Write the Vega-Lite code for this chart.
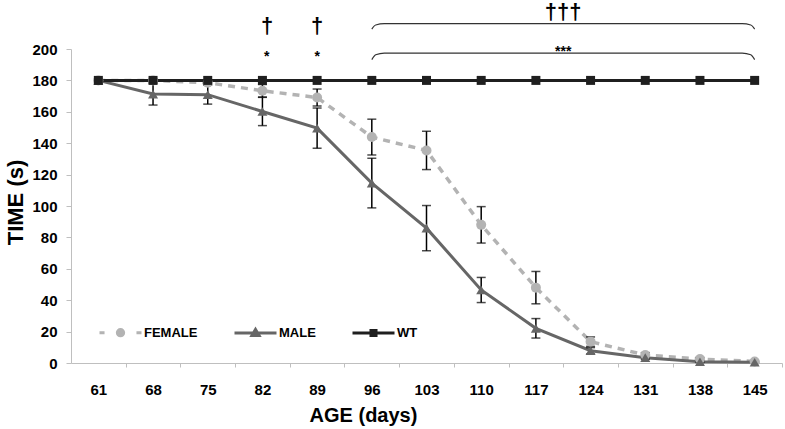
{
  "$schema": "https://vega.github.io/schema/vega-lite/v6.json",
  "width": 711,
  "height": 314,
  "autosize": {"type": "none"},
  "padding": {"left": 71, "top": 49, "right": 3, "bottom": 66},
  "background": "white",
  "config": {"view": {"stroke": null}, "font": "Liberation Sans", "axis": {"grid": false}},
  "datasets": {
    "series": [
      {"series": "FEMALE", "age": 61, "time": 180, "err": 0},
      {"series": "FEMALE", "age": 68, "time": 180, "err": 0},
      {"series": "FEMALE", "age": 75, "time": 178.5, "err": 0},
      {"series": "FEMALE", "age": 82, "time": 173.4, "err": 4},
      {"series": "FEMALE", "age": 89, "time": 169.1, "err": 5.4},
      {"series": "FEMALE", "age": 96, "time": 143.9, "err": 11.4},
      {"series": "FEMALE", "age": 103, "time": 135.4, "err": 12.2},
      {"series": "FEMALE", "age": 110, "time": 88, "err": 11.6},
      {"series": "FEMALE", "age": 117, "time": 48, "err": 10.3},
      {"series": "FEMALE", "age": 124, "time": 13.6, "err": 3},
      {"series": "FEMALE", "age": 131, "time": 5.1, "err": 1.5},
      {"series": "FEMALE", "age": 138, "time": 2.5, "err": 1},
      {"series": "FEMALE", "age": 145, "time": 1, "err": 0.5},
      {"series": "MALE", "age": 61, "time": 180, "err": 0},
      {"series": "MALE", "age": 68, "time": 171.3, "err": 7},
      {"series": "MALE", "age": 75, "time": 170.9, "err": 6},
      {"series": "MALE", "age": 82, "time": 160.2, "err": 9},
      {"series": "MALE", "age": 89, "time": 149.6, "err": 12.8},
      {"series": "MALE", "age": 96, "time": 114.6, "err": 15.8},
      {"series": "MALE", "age": 103, "time": 85.9, "err": 14.4},
      {"series": "MALE", "age": 110, "time": 46.5, "err": 8},
      {"series": "MALE", "age": 117, "time": 22.1, "err": 6.2},
      {"series": "MALE", "age": 124, "time": 7.8, "err": 2},
      {"series": "MALE", "age": 131, "time": 3.4, "err": 1},
      {"series": "MALE", "age": 138, "time": 0.8, "err": 0.5},
      {"series": "MALE", "age": 145, "time": 0.5, "err": 0.3},
      {"series": "WT", "age": 61, "time": 180, "err": 0},
      {"series": "WT", "age": 68, "time": 180, "err": 0},
      {"series": "WT", "age": 75, "time": 180, "err": 0},
      {"series": "WT", "age": 82, "time": 180, "err": 0},
      {"series": "WT", "age": 89, "time": 180, "err": 0},
      {"series": "WT", "age": 96, "time": 180, "err": 0},
      {"series": "WT", "age": 103, "time": 180, "err": 0},
      {"series": "WT", "age": 110, "time": 180, "err": 0},
      {"series": "WT", "age": 117, "time": 180, "err": 0},
      {"series": "WT", "age": 124, "time": 180, "err": 0},
      {"series": "WT", "age": 131, "time": 180, "err": 0},
      {"series": "WT", "age": 138, "time": 180, "err": 0},
      {"series": "WT", "age": 145, "time": 180, "err": 0}
    ],
    "daggers": [
      {"age": 82.6, "time": 214.5, "label": "†"},
      {"age": 89, "time": 214.5, "label": "†"},
      {"age": 120.5, "time": 223.5, "label": "†††"}
    ],
    "stars": [
      {"age": 82.55, "time": 192.5, "label": "*"},
      {"age": 89, "time": 192.5, "label": "*"},
      {"age": 120.5, "time": 195.4, "label": "***"}
    ],
    "brackets": [
      {"bracket": "top", "seq": 1, "age": 96.0, "time": 212.7},
      {"bracket": "top", "seq": 2, "age": 96.5, "time": 215.3},
      {"bracket": "top", "seq": 3, "age": 97.6, "time": 216.1},
      {"bracket": "top", "seq": 4, "age": 143.4, "time": 216.1},
      {"bracket": "top", "seq": 5, "age": 144.5, "time": 215.3},
      {"bracket": "top", "seq": 6, "age": 145.0, "time": 212.7},
      {"bracket": "low", "seq": 1, "age": 96.0, "time": 193.2},
      {"bracket": "low", "seq": 2, "age": 96.5, "time": 196.3},
      {"bracket": "low", "seq": 3, "age": 97.6, "time": 197.4},
      {"bracket": "low", "seq": 4, "age": 143.4, "time": 197.4},
      {"bracket": "low", "seq": 5, "age": 144.5, "time": 196.3},
      {"bracket": "low", "seq": 6, "age": 145.0, "time": 193.2}
    ]
  },
  "encoding": {
    "x": {
      "field": "age", "type": "quantitative",
      "scale": {"domain": [57.5, 148.5], "nice": false, "zero": false},
      "axis": {
        "values": [64.5, 71.5, 78.5, 85.5, 92.5, 99.5, 106.5, 113.5, 120.5, 127.5, 134.5, 141.5, 148.5],
        "labelExpr": "format(datum.value - 3.5, 'd')",
        "labelOffset": -27.35,
        "labelFlush": false, "labelOverlap": false, "labelBound": false,
        "labelFont": "Liberation Sans", "labelFontSize": 15, "labelFontWeight": "bold", "labelColor": "black",
        "labelPadding": 15, "tickSize": 4, "tickColor": "#bfbfbf", "domainColor": "#bfbfbf",
        "title": "AGE (days)", "titleFont": "Liberation Sans", "titleFontSize": 20, "titleFontWeight": "bold",
        "titleColor": "black", "titleX": 292, "titleY": 58, "titleAlign": "center", "titleBaseline": "alphabetic"
      }
    },
    "y": {
      "field": "time", "type": "quantitative",
      "scale": {"domain": [0, 200], "nice": false, "zero": true},
      "axis": {
        "values": [0, 20, 40, 60, 80, 100, 120, 140, 160, 180, 200],
        "labelOverlap": false, "labelBound": false, "labelFlush": false,
        "labelFont": "Liberation Sans", "labelFontSize": 15, "labelFontWeight": "bold", "labelColor": "black",
        "labelPadding": 9, "tickSize": 5, "tickColor": "#bfbfbf", "domainColor": "#bfbfbf",
        "title": "TIME (s)", "titleFont": "Liberation Sans", "titleFontSize": 22, "titleFontWeight": "bold",
        "titleColor": "black", "titleAngle": -90, "titleX": -49, "titleY": 153, "titleAlign": "center", "titleBaseline": "alphabetic"
      }
    }
  },
  "layer": [
    {
      "data": {"name": "series"},
      "transform": [{"filter": "datum.series === 'FEMALE'"}],
      "mark": {"type": "line", "strokeWidth": 3.5, "color": "#b3b3b3", "strokeDash": [7, 6]}
    },
    {
      "data": {"name": "series"},
      "transform": [{"filter": "datum.series === 'MALE'"}],
      "mark": {"type": "line", "strokeWidth": 3, "color": "#666666"}
    },
    {
      "data": {"name": "series"},
      "transform": [{"filter": "datum.series === 'WT'"}],
      "mark": {"type": "line", "strokeWidth": 3, "color": "#1f1f1f"}
    },
    {
      "data": {"name": "series"},
      "transform": [{"filter": "datum.err > 0"}],
      "mark": {"type": "errorbar", "color": "black", "ticks": {"size": 9, "thickness": 1.5}, "rule": {"strokeWidth": 1.5}},
      "encoding": {
        "yError": {"field": "err"}
      }
    },
    {
      "data": {"name": "series"},
      "transform": [{"filter": "datum.series === 'FEMALE'"}],
      "mark": {"type": "point", "shape": "circle", "filled": true, "size": 100, "color": "#b3b3b3", "opacity": 1}
    },
    {
      "data": {"name": "series"},
      "transform": [{"filter": "datum.series === 'MALE'"}],
      "mark": {"type": "point", "shape": "triangle-up", "filled": true, "size": 100, "color": "#666666", "opacity": 1}
    },
    {
      "data": {"name": "series"},
      "transform": [{"filter": "datum.series === 'WT'"}],
      "mark": {"type": "point", "shape": "square", "filled": true, "size": 81, "color": "#1f1f1f", "opacity": 1}
    },
    {
      "data": {"name": "brackets"},
      "mark": {"type": "line", "strokeWidth": 1.2, "color": "#333333", "interpolate": "monotone"},
      "encoding": {
        "detail": {"field": "bracket"},
        "order": {"field": "seq"}
      }
    },
    {
      "data": {"name": "daggers"},
      "mark": {"type": "text", "font": "Liberation Sans", "fontWeight": "bold", "fontSize": 22, "baseline": "middle", "align": "center", "color": "black"},
      "encoding": {
        "text": {"field": "label"}
      }
    },
    {
      "data": {"name": "stars"},
      "mark": {"type": "text", "font": "Liberation Sans", "fontWeight": "bold", "fontSize": 14, "baseline": "alphabetic", "align": "center", "color": "black"},
      "encoding": {
        "text": {"field": "label"}
      }
    },
    {
      "data": {"name": "series"},
      "transform": [{"filter": "datum.series === 'WT'"}],
      "mark": {"type": "point", "filled": true, "opacity": 0, "strokeWidth": 3},
      "encoding": {
        "shape": {
          "field": "series", "type": "nominal",
          "scale": {"domain": ["FEMALE", "MALE", "WT"], "range": [
            "M-1,0H-0.76M0.76,0H1M-0.15,0A0.15,0.15,0,1,0,0.15,0A0.15,0.15,0,1,0,-0.15,0Z",
            "M-1,0H1M-0.17,0.12L0,-0.17L0.17,0.12Z",
            "M-1,0H1M-0.12,-0.12H0.12V0.12H-0.12Z"
          ]},
          "legend": {"orient": "none", "legendX": 27, "legendY": 261, "direction": "horizontal", "title": null,
            "symbolSize": 1764, "symbolStrokeWidth": 3, "symbolOpacity": 1,
            "labelFont": "Liberation Sans", "labelFontWeight": "bold", "labelFontSize": 13, "labelColor": "black",
            "labelOffset": 1, "columnPadding": 30, "padding": 0}
        },
        "fill": {
          "field": "series", "type": "nominal",
          "scale": {"domain": ["FEMALE", "MALE", "WT"], "range": ["#b3b3b3", "#666666", "#1f1f1f"]},
          "legend": {"orient": "none", "legendX": 27, "legendY": 261, "direction": "horizontal", "title": null,
            "symbolSize": 1764, "symbolStrokeWidth": 3, "symbolOpacity": 1,
            "labelFont": "Liberation Sans", "labelFontWeight": "bold", "labelFontSize": 13, "labelColor": "black",
            "labelOffset": 1, "columnPadding": 30, "padding": 0}
        },
        "stroke": {
          "field": "series", "type": "nominal",
          "scale": {"domain": ["FEMALE", "MALE", "WT"], "range": ["#b3b3b3", "#666666", "#1f1f1f"]},
          "legend": {"orient": "none", "legendX": 27, "legendY": 261, "direction": "horizontal", "title": null,
            "symbolSize": 1764, "symbolStrokeWidth": 3, "symbolOpacity": 1,
            "labelFont": "Liberation Sans", "labelFontWeight": "bold", "labelFontSize": 13, "labelColor": "black",
            "labelOffset": 1, "columnPadding": 30, "padding": 0}
        }
      }
    }
  ]
}
